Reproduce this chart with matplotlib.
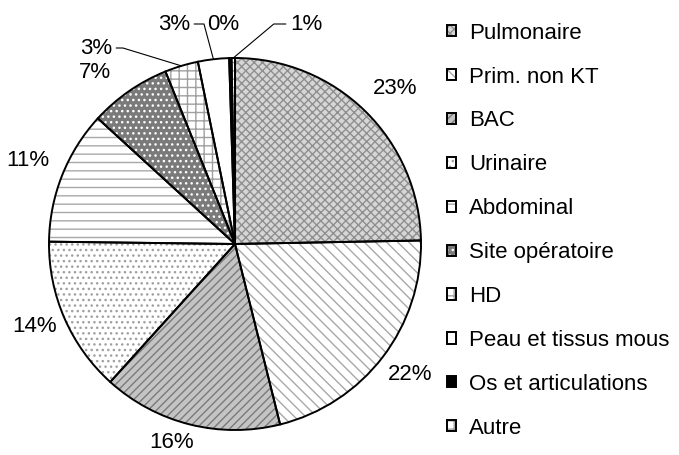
import matplotlib
matplotlib.use('Agg')
import matplotlib.pyplot as plt
import numpy as np

plt.rcParams['font.family'] = ['Liberation Sans', 'DejaVu Sans']
plt.rcParams['hatch.linewidth'] = 1.0

# shares, labels as printed on the chart
categories = ['Pulmonaire', 'Prim. non KT', 'BAC', 'Urinaire', 'Abdominal',
              'Site opératoire', 'HD', 'Peau et tissus mous',
              'Os et articulations', 'Autre']
shares = [24.7, 21.4, 15.6, 13.5, 11.6, 7.1, 2.9, 2.7, 0.2, 0.3]
pct_labels = ['23%', '22%', '16%', '14%', '11%', '7%', '3%', '3%', '0%', '1%']

faces = ['#d6d6d6', 'white', '#c4c4c4', 'white', 'white',
         '#7a7a7a', 'white', 'white', 'black', 'white']
hatches = ['xxxx', '\\\\\\', '////', '...', '--', '...', '++', '', '', '++']
hatch_colors = ['#8f8f8f', '#a8a8a8', '#7a7a7a', '#a0a0a0', '#a8a8a8',
                'white', '#a0a0a0', 'white', 'black', '#a0a0a0']

W, H = 679, 455
fig = plt.figure(figsize=(W / 100, H / 100), dpi=100)
R = 186
cx, cy = 235, 244
half = 1.25 * R
ax = fig.add_axes([(cx - half) / W, (H - cy - half) / H, 2 * half / W, 2 * half / H])

wedges, _ = ax.pie(shares, startangle=90, counterclock=False, colors=faces,
                   wedgeprops=dict(linewidth=0))
for w, h, hc in zip(wedges, hatches, hatch_colors):
    w.set_hatch(h)
    w.set_edgecolor(hc)
outlines, _ = ax.pie(shares, startangle=90, counterclock=False,
                     wedgeprops=dict(fill=False, edgecolor='black', linewidth=1.4))
ax.set_xlim(-1.25, 1.25)
ax.set_ylim(-1.25, 1.25)


def px(x, y):
    # picture pixels -> pie data units
    return ((x - cx) / R, (cy - y) / R)


fs = 16
# label anchor points (pixels), alignment, leader elbow angle (None = no leader)
label_pos = [((395, 88), 'center', None),
             ((410, 374), 'center', None),
             ((172, 443), 'center', None),
             ((35, 327), 'center', None),
             ((28, 160), 'center', None),
             ((95, 72), 'center', None),
             ((112, 48), 'right', 163),
             ((190, 24), 'right', 105),
             ((223, 24), 'center', None),
             ((290, 24), 'left', 40)]

for w, lab, (pos, ha, angb) in zip(wedges, pct_labels, label_pos):
    if angb is None:
        ax.text(*px(*pos), lab, ha=ha, va='center', fontsize=fs)
    else:
        a = np.deg2rad((w.theta1 + w.theta2) / 2)
        ax.annotate(lab, xy=(np.cos(a), np.sin(a)), xytext=px(*pos), ha=ha,
                    va='center', fontsize=fs,
                    arrowprops=dict(arrowstyle='-', lw=0.8, color='black',
                                    shrinkA=1, shrinkB=0,
                                    relpos=(1, 0.5) if ha == 'right' else (0, 0.5),
                                    connectionstyle='angle,angleA=0,angleB=%d,rad=0' % angb))

handles = [(w, o) for w, o in zip(wedges, outlines)]
leg = ax.legend(handles, categories, loc='center left',
                bbox_to_anchor=(432 / W, 0.493), bbox_transform=fig.transFigure,
                fontsize=fs, frameon=True, facecolor='white', edgecolor='none',
                framealpha=1, fancybox=False, borderpad=0.68,
                handlelength=0.4, handleheight=0.4, handletextpad=0.6,
                labelspacing=1.03, borderaxespad=0)
leg.set_zorder(10)

fig.savefig('out.png', dpi=100)
